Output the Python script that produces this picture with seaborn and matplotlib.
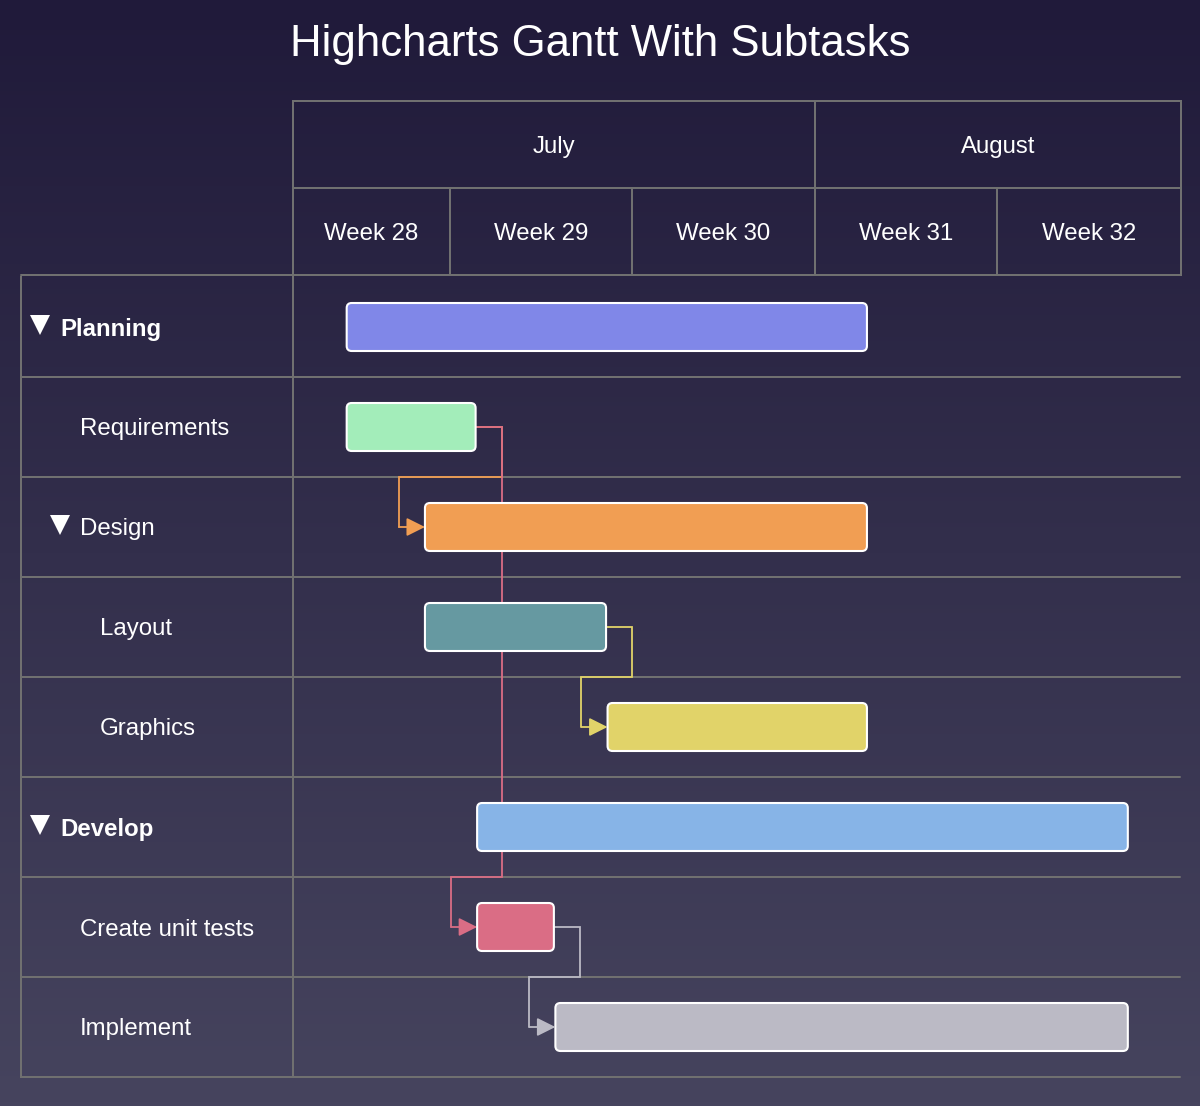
import numpy as np
import pandas as pd
import seaborn as sns
import matplotlib.pyplot as plt
import matplotlib.dates as mdates
from matplotlib.patches import FancyBboxPatch
from matplotlib.colors import LinearSegmentedColormap

# data
tasks = ["Planning", "Requirements", "Design", "Layout", "Graphics",
         "Develop", "Create unit tests", "Implement"]
starts = ["2022-07-14", "2022-07-14", "2022-07-17", "2022-07-17", "2022-07-24",
          "2022-07-19", "2022-07-19", "2022-07-22"]
ends = ["2022-08-03", "2022-07-19", "2022-08-03", "2022-07-24", "2022-08-03",
        "2022-08-13", "2022-07-22", "2022-08-13"]
levels = [0, 1, 1, 2, 2, 0, 1, 1]
collapsible = [True, False, True, False, False, True, False, False]
colors = ["#8087e8", "#a3edba", "#f19e53", "#6699a1", "#e1d369",
          "#87b4e7", "#da6d85", "#bbbac5"]
dependencies = [("Requirements", "Design"), ("Requirements", "Create unit tests"),
                ("Layout", "Graphics"), ("Create unit tests", "Implement")]
months = ["July", "August"]
month_starts = ["2022-07-12", "2022-08-01"]
weeks = ["Week 28", "Week 29", "Week 30", "Week 31", "Week 32"]
week_starts = ["2022-07-12", "2022-07-18", "2022-07-25", "2022-08-01", "2022-08-08"]
axis_range = ["2022-07-12", "2022-08-15"]

df = pd.DataFrame({"task": tasks, "start": pd.to_datetime(starts), "end": pd.to_datetime(ends),
                   "level": levels, "color": colors})
df["s"] = mdates.date2num(df["start"])
df["e"] = mdates.date2num(df["end"])
x0, x1 = mdates.date2num(pd.to_datetime(axis_range))

sns.set_theme(style="dark")
plt.rcParams["font.family"] = ["Liberation Sans", "DejaVu Sans"]

W, H = 1200, 1106
fig = plt.figure(figsize=(W / 100, H / 100), dpi=100)

# gradient background
bg = fig.add_axes([0, 0, 1, 1], zorder=-10)
grad = np.linspace(0, 1, 256)[:, None]
cmap = LinearSegmentedColormap.from_list("bg", ["#201a3a", "#46445e"])
bg.imshow(grad, aspect="auto", cmap=cmap, extent=[0, 1, 0, 1])
bg.set_axis_off()

grid_c = "#707070"
grid_lw = 1.45


def px_axes(l, t, r, b):
    return fig.add_axes([l / W, 1 - b / H, (r - l) / W, (b - t) / H])


n = len(tasks)
ax = px_axes(293, 277, 1180, 1077)
left = px_axes(21, 277, 293, 1077)
head = px_axes(293, 101, 1181, 275)

for a in (ax, left, head):
    a.set_facecolor("none")
    a.set_xticks([])
    a.set_yticks([])
    for sp in a.spines.values():
        sp.set_visible(False)

ax.set_xlim(x0, x1)
ax.set_ylim(n - 0.5, -0.5)
for b in np.arange(1, n + 1) - 0.5:
    ax.axhline(b, color=grid_c, lw=grid_lw, zorder=1, clip_on=False)

# bars
px_day = 887 / (x1 - x0)
r = 5 / px_day
aspect = (5 / 100) / r
bar_h = 0.48
for i, row in df.iterrows():
    p = FancyBboxPatch((row["s"] + 1.5 / px_day, i - bar_h / 2),
                       row["e"] - row["s"] - 1.5 / px_day, bar_h,
                       boxstyle=f"round,pad=0,rounding_size={r}", mutation_aspect=aspect,
                       facecolor=row["color"], edgecolor="white", lw=1.5, zorder=4)
    ax.add_patch(p)

# dependency connectors
idx = {t: i for i, t in enumerate(tasks)}
for src, dst in dependencies:
    s, t = idx[src], idx[dst]
    xe, xt = df.loc[s, "e"], df.loc[t, "s"] + 1.5 / px_day
    c = df.loc[t, "color"]
    xs = [xe, xe + 1, xe + 1, xt - 1, xt - 1]
    ys = [s, s, t - 0.5, t - 0.5, t]
    ax.plot(xs, ys, color=c, lw=1.3, zorder=2, solid_joinstyle="miter")
    ax.annotate("", xy=(xt, t), xytext=(xt - 1, t),
                arrowprops=dict(arrowstyle="-|>,head_length=0.8,head_width=0.4",
                                color=c, lw=1.3, shrinkA=0, shrinkB=0, mutation_scale=14),
                zorder=2)

# left label column
left.set_xlim(0, 272)
left.set_ylim(n - 0.5, -0.5)
for sp in ("left", "right", "bottom"):
    left.spines[sp].set_visible(True)
    left.spines[sp].set_color(grid_c)
    left.spines[sp].set_linewidth(grid_lw)
left.plot([0, 272], [-0.52, -0.52], color=grid_c, lw=grid_lw, clip_on=False)
for b in np.arange(1, n) - 0.5:
    left.axhline(b, color=grid_c, lw=grid_lw)
for i, row in df.iterrows():
    lx = 39 + 20 * row["level"]
    if collapsible[i]:
        left.plot(lx - 20, i - 0.02, marker="v", ms=14.4, color="white", mew=0)
    left.text(lx, i, row["task"], color="white", fontsize=17.3, va="center_baseline",
              ha="left", fontweight="bold" if row["level"] == 0 else "normal")

# header: months and weeks
head.set_xlim(x0, x1 + 1 / px_day)
head.set_ylim(0, 2)
for sp in head.spines.values():
    sp.set_visible(True)
    sp.set_color(grid_c)
    sp.set_linewidth(grid_lw)
hx1 = head.get_xlim()[1]
head.axhline(1, color=grid_c, lw=grid_lw)
m_num = list(mdates.date2num(pd.to_datetime(month_starts))) + [hx1]
for k, m in enumerate(months):
    if k > 0:
        head.plot([m_num[k]] * 2, [1, 2], color=grid_c, lw=grid_lw)
    head.text((m_num[k] + m_num[k + 1]) / 2, 1.5, m, color="white", fontsize=17.3,
              ha="center", va="center_baseline")
w_num = list(mdates.date2num(pd.to_datetime(week_starts))) + [hx1]
for k, w in enumerate(weeks):
    if k > 0:
        head.plot([w_num[k]] * 2, [0, 1], color=grid_c, lw=grid_lw)
    head.text((w_num[k] + w_num[k + 1]) / 2, 0.5, w, color="white", fontsize=17.3,
              ha="center", va="center_baseline")

fig.text(0.5, 1 - 40 / H, "Highcharts Gantt With Subtasks", color="white",
         fontsize=31.5, ha="center", va="center_baseline")

fig.savefig("out.png", dpi=100)
